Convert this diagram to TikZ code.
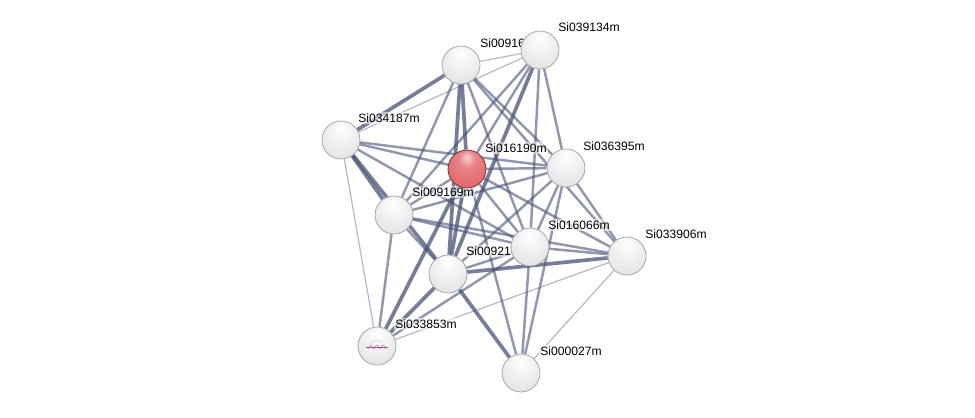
\documentclass[tikz,border=0pt]{standalone}
\usepackage{fontspec}
\setmainfont{Liberation Sans}
\usetikzlibrary{shadings}
\pgfdeclarelayer{background}
\pgfsetlayers{background,main}
\definecolor{edgeblue}{RGB}{72,82,118}
\definecolor{ballred}{RGB}{226,100,104}
\pgfdeclareradialshading{stringball}{\pgfqpoint{0bp}{16bp}}{color(0bp)=(white); color(12bp)=(gray!8); color(34bp)=(gray!22); color(52bp)=(gray!38); color(64bp)=(gray!55)}
\pgfdeclareradialshading{queryball}{\pgfqpoint{0bp}{16bp}}{color(0bp)=(ballred!30!white); color(12bp)=(ballred!80!white); color(34bp)=(ballred); color(52bp)=(ballred!80!black); color(64bp)=(ballred!60!black)}

\begin{document}
\begin{tikzpicture}[x=0.02cm,y=-0.02cm]
\tikzset{
  protnode/.style={circle,draw=gray!70,line width=0.45pt,minimum size=0.76cm,inner sep=0pt,shading=stringball},
  querynode/.style={protnode,draw=ballred!50!black,shading=queryball},
  protlabel/.style={anchor=west,inner sep=0.6pt,fill=white,fill opacity=0.55,text opacity=1,font=\fontsize{6.9}{8}\selectfont,text=black},
  weaklink/.style={draw=edgeblue,line width=0.7pt,opacity=0.4},
  midlink/.style={draw=edgeblue,line width=1.4pt,opacity=0.6},
  stronglink/.style={draw=edgeblue,line width=2.1pt,opacity=0.75}
}
\useasboundingbox (0,0) rectangle (975,418);
\node[protlabel] (l_009168) at (479,43) {Si00916};
\node[protlabel] (l_039134) at (557,27) {Si039134m};
\node[protlabel] (l_034187) at (357,118) {Si034187m};
\node[protlabel] (l_016190) at (484,148) {Si016190m};
\node[protlabel] (l_036395) at (582,146) {Si036395m};
\node[protlabel] (l_009169) at (411,192) {Si009169m};
\node[protlabel] (l_016066) at (547,225) {Si016066m};
\node[protlabel] (l_033906) at (644,234) {Si033906m};
\node[protlabel] (l_009210) at (465,251) {Si00921};
\node[protlabel] (l_033853) at (394,324) {Si033853m};
\node[protlabel] (l_000027) at (539,351) {Si000027m};
\node[protnode] (n_009168) at (461,65) {};
\node[protnode] (n_039134) at (540,50) {};
\node[protnode] (n_034187) at (341,140) {};
\node[querynode] (n_016190) at (467,169) {};
\node[protnode] (n_036395) at (566,168) {};
\node[protnode] (n_009169) at (394,215) {};
\node[protnode] (n_016066) at (530,247) {};
\node[protnode] (n_033906) at (627,256) {};
\node[protnode] (n_009210) at (448,274) {};
\node[protnode] (n_033853) at (377,346) {};
\node[protnode] (n_000027) at (521,373) {};
\draw[violet!70,line width=0.3pt] (366,347) -- (388,347);
\draw[violet!60,line width=0.25pt] (368,349) sin (371,345) cos (374,349) sin (377,345) cos (380,349) sin (383,345) cos (386,349);
\draw[violet!35,line width=0.2pt] (370,343) -- (376,340) -- (382,343);
\begin{pgfonlayer}{background}
\draw[weaklink] (n_009168) -- (n_039134);
\draw[stronglink] (n_009168) -- (n_034187);
\draw[stronglink] (n_009168) -- (n_016190);
\draw[midlink] (n_009168) -- (n_036395);
\draw[midlink] (n_009168) -- (n_009169);
\draw[midlink] (n_009168) -- (n_016066);
\draw[stronglink] (n_009168) -- (n_009210);
\draw[midlink] (n_009168) -- (n_033906);
\draw[weaklink] (n_039134) -- (n_034187);
\draw[midlink] (n_039134) -- (n_016190);
\draw[midlink] (n_039134) -- (n_009169);
\draw[stronglink] (n_039134) -- (n_009210);
\draw[midlink] (n_039134) -- (n_036395);
\draw[midlink] (n_039134) -- (n_016066);
\draw[midlink] (n_034187) -- (n_016190);
\draw[midlink] (n_034187) -- (n_036395);
\draw[stronglink] (n_034187) -- (n_009169);
\draw[stronglink] (n_034187) -- (n_009210);
\draw[midlink] (n_034187) -- (n_016066);
\draw[weaklink] (n_034187) -- (n_033853);
\draw[midlink] (n_016190) -- (n_036395);
\draw[midlink] (n_016190) -- (n_009169);
\draw[stronglink] (n_016190) -- (n_009210);
\draw[midlink] (n_016190) -- (n_016066);
\draw[midlink] (n_016190) -- (n_033906);
\draw[stronglink] (n_016190) -- (n_033853);
\draw[midlink] (n_016190) -- (n_000027);
\draw[midlink] (n_036395) -- (n_009169);
\draw[midlink] (n_036395) -- (n_016066);
\draw[midlink] (n_036395) -- (n_033906);
\draw[midlink] (n_036395) -- (n_009210);
\draw[midlink] (n_036395) -- (n_000027);
\draw[midlink] (n_009169) -- (n_016066);
\draw[midlink] (n_009169) -- (n_033906);
\draw[midlink] (n_009169) -- (n_009210);
\draw[midlink] (n_009169) -- (n_033853);
\draw[midlink] (n_016066) -- (n_033906);
\draw[midlink] (n_016066) -- (n_009210);
\draw[midlink] (n_016066) -- (n_000027);
\draw[midlink] (n_016066) -- (n_033853);
\draw[stronglink] (n_033906) -- (n_009210);
\draw[weaklink] (n_033906) -- (n_033853);
\draw[weaklink] (n_033906) -- (n_000027);
\draw[stronglink] (n_009210) -- (n_033853);
\draw[stronglink] (n_009210) -- (n_000027);
\end{pgfonlayer}
\end{tikzpicture}
\end{document}
